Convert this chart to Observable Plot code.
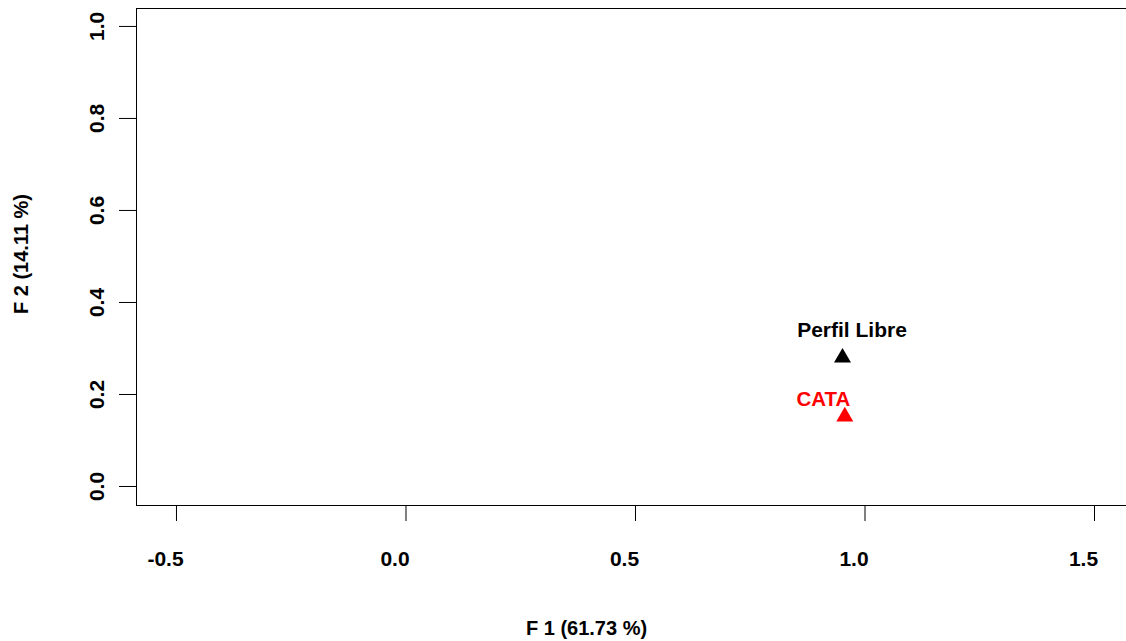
<!DOCTYPE html>
<html>
<head>
<meta charset="utf-8">
<script src="https://cdn.jsdelivr.net/npm/d3@7"></script>
<script src="https://cdn.jsdelivr.net/npm/@observablehq/plot@0.6"></script>
<style>
  html, body { margin: 0; padding: 0; background: white; overflow: hidden; }
</style>
</head>
<body>
<div id="chart"></div>
<script>
// Data
const labels = ["Perfil Libre", "CATA"];
const f1 = [0.951, 0.956];
const f2 = [0.280, 0.152];
const colors = ["#000000", "#FF0000"];
const xTicks = [-0.5, 0.0, 0.5, 1.0, 1.5];
const yTicks = [0.0, 0.2, 0.4, 0.6, 0.8, 1.0];
const xTitle = "F 1 (61.73 %)";
const yTitle = "F 2 (14.11 %)";
const xDomain = [-0.5871, 1.5697];
const yDomain = [-0.0413, 1.039];

const fmt = d => d.toFixed(1);
const idx = labels.map((_, i) => i);

const chart = Plot.plot({
  width: 1126,
  height: 641,
  marginLeft: 136,
  marginRight: 0,
  marginTop: 8,
  marginBottom: 136,
  x: { domain: xDomain, axis: null },
  y: { domain: yDomain, axis: null },
  color: { type: "identity" },
  style: {
    fontFamily: "'Liberation Sans', Arial, Helvetica, sans-serif",
    fontWeight: "bold",
    background: "white",
    color: "black"
  },
  marks: [
    // box (top, bottom, left)
    Plot.ruleY([yDomain[0], yDomain[1]], { stroke: "#000", strokeWidth: 1 }),
    Plot.ruleX([xDomain[0]], { stroke: "#000", strokeWidth: 1 }),
    // tick marks
    Plot.axisX({ ticks: xTicks, tickSize: 16, tickFormat: () => "", label: null, stroke: "#000" }),
    Plot.axisY({ ticks: yTicks, tickSize: 17, tickFormat: () => "", label: null, stroke: "#000" }),
    // tick labels
    Plot.text(xTicks, {
      x: d => d, frameAnchor: "bottom", text: fmt,
      dx: -11, dy: 60, lineAnchor: "bottom", fontSize: 21, fill: "#000"
    }),
    Plot.text(yTicks, {
      y: d => d, frameAnchor: "left", text: fmt, rotate: -90,
      dx: -33, lineAnchor: "bottom", textAnchor: "middle", fontSize: 21, fill: "#000"
    }),
    // axis titles
    Plot.text([xTitle], {
      frameAnchor: "bottom", text: d => d, dx: -45, dy: 129,
      lineAnchor: "bottom", fontSize: 20, fill: "#000"
    }),
    Plot.text([yTitle], {
      frameAnchor: "left", text: d => d, rotate: -90, dx: -109, dy: -3,
      lineAnchor: "bottom", textAnchor: "middle", fontSize: 20, fill: "#000"
    }),
    // points
    Plot.dot(idx, {
      x: i => f1[i], y: i => f2[i], symbol: "triangle", r: 6.3,
      fill: i => colors[i], stroke: "none"
    }),
    // labels
    Plot.text([0], {
      x: i => f1[i], y: i => f2[i], text: i => labels[i], fill: i => colors[i],
      dx: 9.5, dy: -20.3, lineAnchor: "bottom", fontSize: 21
    }),
    Plot.text([1], {
      x: i => f1[i], y: i => f2[i], text: i => labels[i], fill: i => colors[i],
      dx: -21.4, dy: -10.3, lineAnchor: "bottom", fontSize: 20.5
    })
  ]
});

document.getElementById("chart").appendChild(chart);
</script>
</body>
</html>
